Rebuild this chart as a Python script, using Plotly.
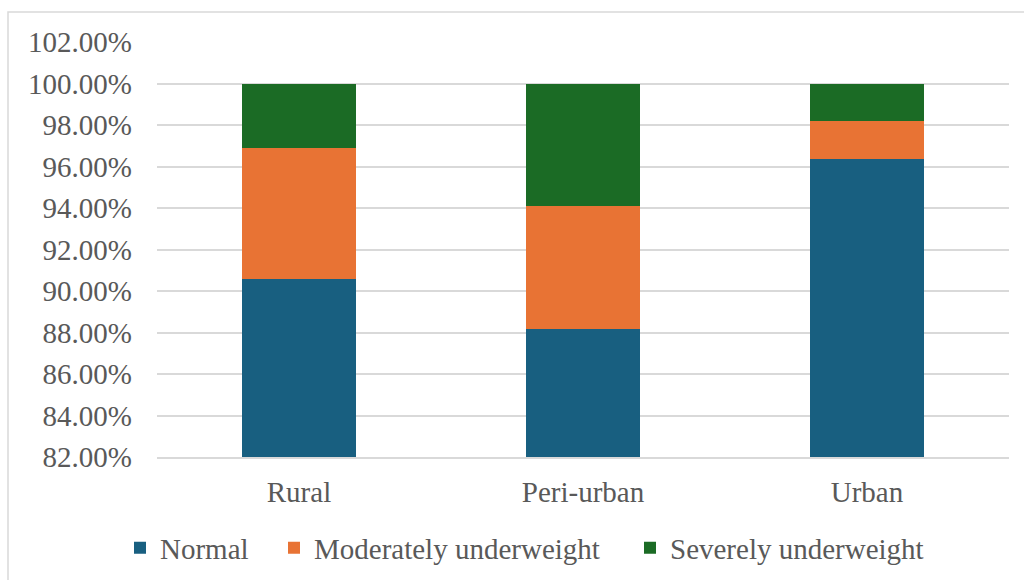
import plotly.graph_objects as go

# Share of children by nutritional status, per residence area (percent)
areas = ["Rural", "Peri-urban", "Urban"]
normal = [90.58, 88.19, 96.38]
moderate = [6.33, 5.89, 1.81]
severe = [3.09, 5.92, 1.81]

y_ticks = [82, 84, 86, 88, 90, 92, 94, 96, 98, 100, 102]

TEXT = "#595959"
GRID = "#d9d9d9"
FONT = "'Liberation Serif', 'Times New Roman', Times, serif"
SIZE = 29

series = [
    ("Normal", normal, "#185F80", "legend", 120),
    ("Moderately underweight", moderate, "#E87334", "legend2", 274),
    ("Severely underweight", severe, "#1B6B25", "legend3", 630),
]

fig = go.Figure()
legends = {}
for name, vals, color, leg, left_px in series:
    fig.add_trace(go.Bar(name=name, x=areas, y=vals, marker_color=color,
                         marker_line_width=0, legend=leg))
    legends[leg] = dict(orientation="h", xref="container", x=left_px / 1024,
                        xanchor="left", yref="container", y=1 - 548 / 580,
                        yanchor="middle", itemwidth=30,
                        bgcolor="rgba(0,0,0,0)",
                        font=dict(family=FONT, size=SIZE, color=TEXT))

fig.update_layout(
    barmode="stack",
    bargap=0.6,
    width=1024,
    height=580,
    margin=dict(l=157, r=15, t=42, b=123, autoexpand=False),
    paper_bgcolor="white",
    plot_bgcolor="white",
    font=dict(family=FONT, size=SIZE, color=TEXT),
    showlegend=True,
    yaxis=dict(range=[82, 102], tickvals=y_ticks,
               ticktext=[f"{v:.2f}%" for v in y_ticks],
               showgrid=True, gridcolor=GRID, gridwidth=2,
               zeroline=False, showline=False, ticks="",
               ticklabelstandoff=24, automargin=False,
               tickfont=dict(family=FONT, size=SIZE, color=TEXT)),
    xaxis=dict(showgrid=False, showline=True, linecolor=GRID, linewidth=2,
               ticks="", ticklabelstandoff=8, automargin=False,
               tickfont=dict(family=FONT, size=SIZE, color=TEXT)),
    shapes=[dict(type="rect", xref="paper", yref="paper",
                 x0=(8 - 157) / 852, x1=(1030 - 157) / 852,
                 y0=(457 - 590) / 415, y1=(457 - 12) / 415,
                 line=dict(color=GRID, width=1.5), fillcolor="rgba(0,0,0,0)",
                 layer="below")],
    **legends,
)

fig.write_html("out.html")
